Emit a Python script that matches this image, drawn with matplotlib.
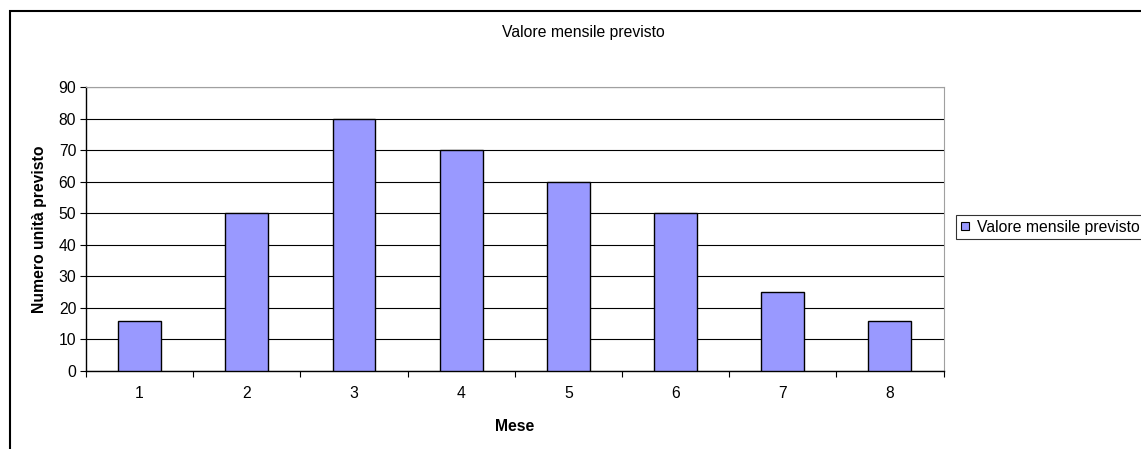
import matplotlib.pyplot as plt
from matplotlib.patches import Rectangle
from matplotlib.lines import Line2D

plt.rcParams['font.family'] = ['Liberation Sans', 'DejaVu Sans']

# Data
mesi = ['1', '2', '3', '4', '5', '6', '7', '8']
valori = [16, 50, 80, 70, 60, 50, 25, 16]
y_ticks = [0, 10, 20, 30, 40, 50, 60, 70, 80, 90]

FS = 11.3
W, H = 1141, 449
fig = plt.figure(figsize=(W / 100, H / 100), dpi=100)

# outer chart border (cut off at right/bottom like the original)
fig.patches.append(Rectangle((10 / W, -0.1), 1.2, 1 - 11 / H + 0.1,
                             transform=fig.transFigure, fill=False,
                             edgecolor='black', linewidth=1.5))

# plot area in pixels
left, top, right, bottom = 86, 87, 943.5, 371
ax = fig.add_axes([left / W, 1 - bottom / H, (right - left) / W, (bottom - top) / H])

x = list(range(len(mesi)))
ax.bar(x, valori, width=0.4, color='#9999ff', edgecolor='black', linewidth=1.0,
       zorder=3, label='Valore mensile previsto')

ax.set_xlim(-0.5, len(mesi) - 0.5)
ax.set_ylim(0, 90)
ax.set_yticks(y_ticks)
ax.yaxis.grid(True, color='black', linewidth=0.8, zorder=0)
ax.set_axisbelow(True)

# category labels centred, ticks on category boundaries
ax.set_xticks([i - 0.5 for i in range(len(mesi) + 1)])
ax.set_xticklabels([])
ax.set_xticks(x, minor=True)
ax.set_xticklabels(mesi, minor=True)
ax.tick_params(axis='x', which='minor', length=0, pad=11, labelsize=FS)
ax.tick_params(axis='x', which='major', length=4, direction='out', width=0.8)
ax.tick_params(axis='y', length=4, direction='out', width=0.8, labelsize=FS, pad=3)

for s in ['top', 'right']:
    ax.spines[s].set_color('#a0a0a0')
ax.spines['left'].set_linewidth(1.0)
ax.spines['bottom'].set_linewidth(1.0)

ax.set_xlabel('Mese', fontweight='bold', fontsize=FS, labelpad=13)
ax.set_ylabel('Numero unità previsto', fontweight='bold', fontsize=FS, labelpad=8)

fig.text(583 / W, 1 - 33 / H, 'Valore mensile previsto', ha='center', va='center', fontsize=FS)

handle = Line2D([], [], marker='s', linestyle='none', markersize=6,
                markerfacecolor='#9999ff', markeredgecolor='black', markeredgewidth=0.8)
leg = fig.legend([handle], ['Valore mensile previsto'], loc='upper left',
                 bbox_to_anchor=(956 / W, 1 - 215 / H), frameon=True, fancybox=False,
                 fontsize=FS, handlelength=0.6, handletextpad=0.45, borderpad=0.3,
                 borderaxespad=0)
leg.get_frame().set_edgecolor('black')
leg.get_frame().set_linewidth(0.8)

fig.savefig('out.png', dpi=100)
